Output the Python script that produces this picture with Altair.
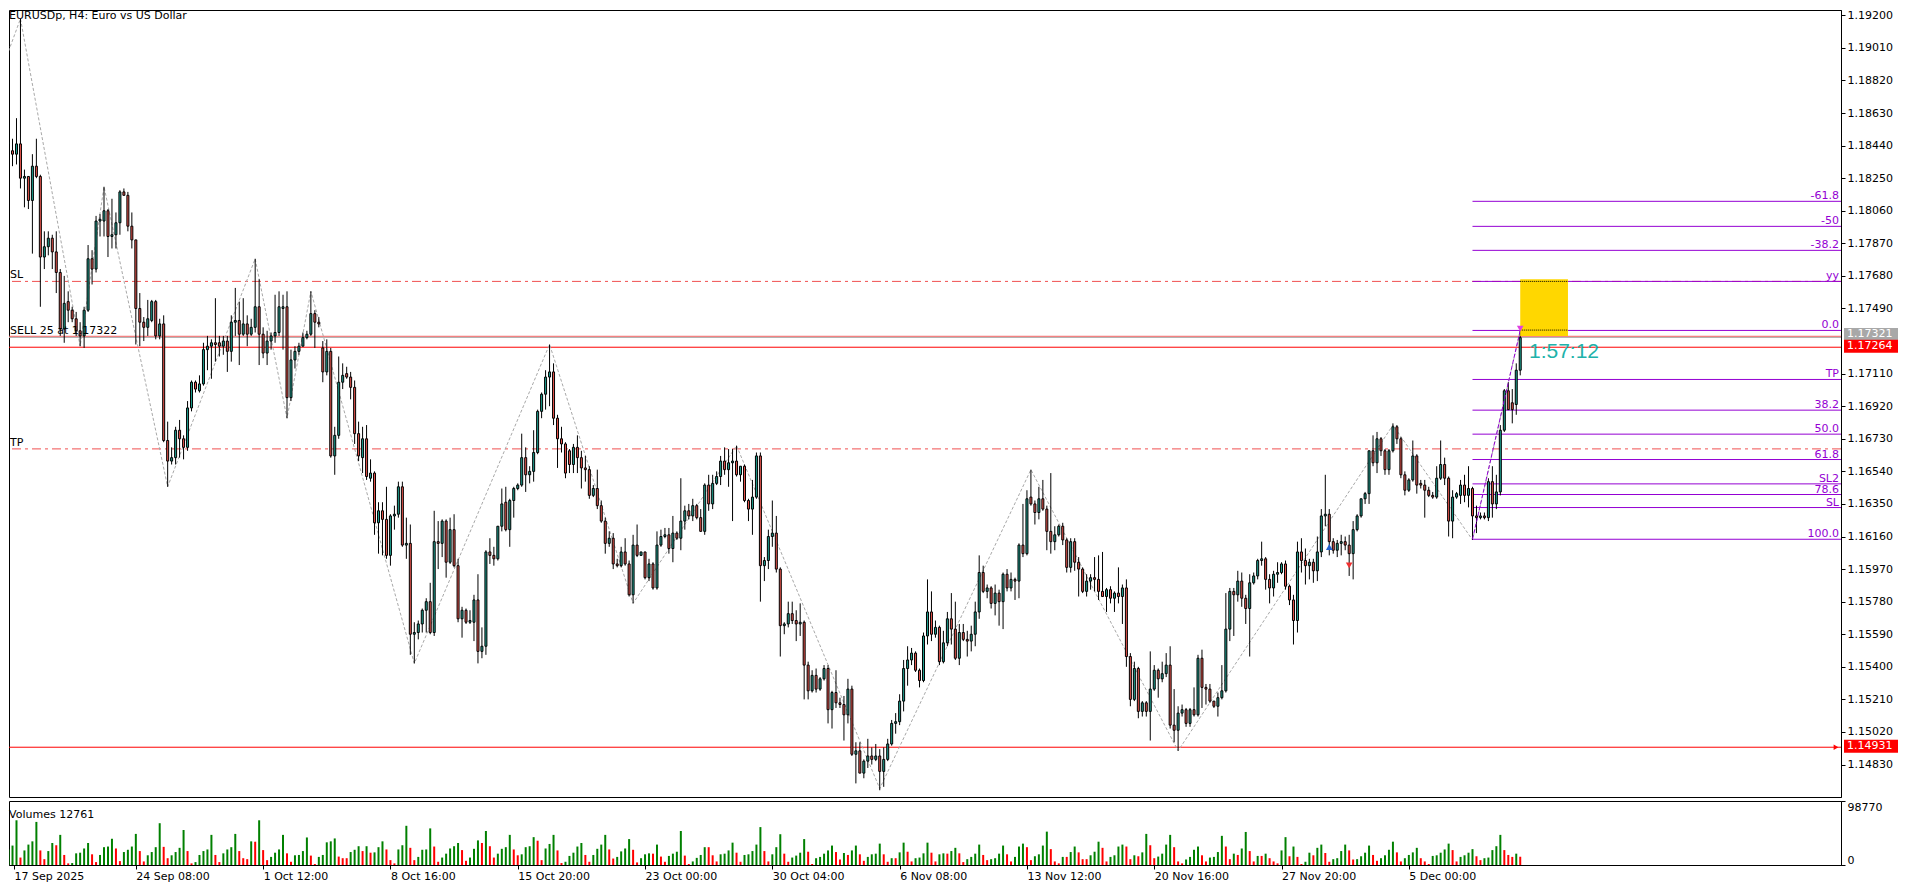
import altair as alt
import pandas as pd

W, H1, H2 = 1832, 787, 64
FONT = "DejaVu Sans"
BULL, BEAR = "#1E9E8E", "#E5534B"
PURPLE = "#9400D3"

# ---------------- candles (prices in pips, 1 = 0.0001) ----------------
opens = [
    11845, 11841, 11839, 11845, 11825, 11826, 11812, 11832, 11826, 11779,
    11785, 11790, 11782, 11770, 11737, 11753, 11748, 11743, 11736, 11733,
    11748, 11778, 11772, 11800, 11800, 11806, 11791, 11792, 11799, 11817,
    11815, 11797, 11789, 11749, 11741, 11738, 11742, 11753, 11733, 11740,
    11672, 11660, 11662, 11678, 11673, 11668, 11691, 11706, 11701, 11705,
    11725, 11727, 11729, 11729, 11727, 11730, 11724, 11741, 11742, 11734,
    11740, 11734, 11738, 11750, 11734, 11723, 11730, 11733, 11735, 11749,
    11750, 11697, 11719, 11724, 11727, 11732, 11734, 11746, 11741, 11726,
    11712, 11724, 11663, 11675, 11706, 11711, 11709, 11703, 11676, 11662,
    11673, 11650, 11653, 11624, 11631, 11626, 11605, 11628, 11629, 11645,
    11611, 11612, 11559, 11560, 11565, 11573, 11578, 11560, 11613, 11612,
    11625, 11601, 11620, 11599, 11568, 11573, 11566, 11566, 11579, 11549,
    11552, 11607, 11605, 11603, 11622, 11636, 11620, 11637, 11644, 11646,
    11662, 11652, 11654, 11665, 11689, 11699, 11709, 11712, 11685, 11673,
    11670, 11666, 11658, 11668, 11662, 11656, 11655, 11640, 11644, 11634,
    11625, 11612, 11615, 11600, 11599, 11607, 11600, 11582, 11611, 11605,
    11607, 11592, 11600, 11586, 11611, 11616, 11617, 11609, 11618, 11615,
    11625, 11631, 11628, 11634, 11627, 11619, 11646, 11635, 11647, 11651,
    11660, 11655, 11659, 11660, 11652, 11657, 11637, 11632, 11639, 11663,
    11599, 11602, 11616, 11618, 11597, 11564, 11565, 11571, 11567, 11565,
    11566, 11541, 11526, 11535, 11527, 11533, 11539, 11515, 11525, 11519,
    11518, 11512, 11527, 11489, 11491, 11478, 11485, 11488, 11486, 11488,
    11479, 11486, 11495, 11507, 11508, 11520, 11539, 11544, 11548, 11538,
    11532, 11558, 11572, 11559, 11563, 11543, 11554, 11568, 11562, 11545,
    11560, 11556, 11555, 11559, 11572, 11595, 11584, 11586, 11577, 11583,
    11578, 11594, 11586, 11591, 11590, 11611, 11606, 11639, 11635, 11630,
    11638, 11632, 11619, 11613, 11617, 11622, 11614, 11598, 11613, 11601,
    11597, 11584, 11590, 11592, 11591, 11584, 11581, 11585, 11580, 11583,
    11581, 11586, 11546, 11521, 11539, 11514, 11519, 11514, 11527, 11538,
    11533, 11536, 11541, 11506, 11503, 11513, 11515, 11507, 11515, 11512,
    11545, 11528, 11527, 11520, 11517, 11522, 11526, 11562, 11584, 11582,
    11590, 11580, 11574, 11589, 11593, 11602, 11603, 11591, 11586, 11594,
    11595, 11600, 11587, 11579, 11567, 11607, 11602, 11599, 11601, 11596,
    11607, 11628, 11629, 11613, 11608, 11612, 11613, 11611, 11606, 11620,
    11628, 11638, 11641, 11666, 11659, 11673, 11666, 11655, 11666, 11680,
    11673, 11652, 11643, 11649, 11663, 11647, 11646, 11643, 11640, 11639,
    11650, 11658, 11650, 11625, 11639, 11640, 11646, 11640, 11644, 11628,
    11627, 11628, 11627, 11648, 11635, 11642, 11678, 11701, 11694, 11693,
    11713,
]
closes = [
    11846, 11839, 11845, 11825, 11826, 11812, 11832, 11826, 11779, 11785,
    11790, 11782, 11770, 11737, 11752, 11748, 11743, 11736, 11733, 11748,
    11778, 11772, 11800, 11801, 11806, 11791, 11792, 11799, 11817, 11815,
    11797, 11789, 11749, 11741, 11738, 11743, 11753, 11733, 11740, 11672,
    11660, 11662, 11678, 11673, 11668, 11691, 11706, 11702, 11705, 11725,
    11727, 11729, 11728, 11727, 11730, 11724, 11741, 11742, 11734, 11740,
    11734, 11738, 11750, 11734, 11723, 11730, 11733, 11735, 11750, 11750,
    11697, 11719, 11724, 11727, 11732, 11734, 11746, 11741, 11740, 11712,
    11724, 11663, 11675, 11706, 11710, 11709, 11703, 11676, 11663, 11673,
    11651, 11653, 11624, 11631, 11626, 11605, 11628, 11629, 11645, 11611,
    11612, 11559, 11560, 11565, 11573, 11578, 11560, 11613, 11612, 11625,
    11601, 11620, 11599, 11568, 11573, 11566, 11567, 11579, 11549, 11552,
    11607, 11605, 11603, 11622, 11635, 11620, 11637, 11644, 11646, 11662,
    11652, 11654, 11665, 11689, 11699, 11709, 11712, 11685, 11673, 11670,
    11653, 11658, 11668, 11662, 11656, 11655, 11640, 11644, 11634, 11625,
    11612, 11615, 11600, 11599, 11607, 11600, 11582, 11611, 11605, 11607,
    11592, 11600, 11586, 11611, 11616, 11617, 11609, 11618, 11615, 11625,
    11631, 11628, 11634, 11627, 11619, 11646, 11635, 11647, 11651, 11660,
    11655, 11659, 11660, 11652, 11657, 11637, 11632, 11639, 11663, 11599,
    11602, 11616, 11618, 11597, 11564, 11565, 11571, 11567, 11565, 11566,
    11541, 11526, 11535, 11527, 11533, 11539, 11515, 11525, 11519, 11518,
    11512, 11527, 11489, 11491, 11478, 11485, 11488, 11486, 11488, 11479,
    11486, 11495, 11507, 11508, 11520, 11539, 11544, 11548, 11538, 11532,
    11558, 11572, 11559, 11563, 11543, 11554, 11568, 11562, 11545, 11560,
    11556, 11555, 11559, 11572, 11595, 11584, 11586, 11577, 11583, 11578,
    11594, 11586, 11591, 11590, 11611, 11606, 11638, 11635, 11630, 11638,
    11632, 11619, 11613, 11617, 11622, 11614, 11598, 11613, 11601, 11597,
    11584, 11590, 11592, 11591, 11584, 11581, 11585, 11580, 11583, 11581,
    11586, 11546, 11521, 11539, 11514, 11519, 11514, 11527, 11538, 11533,
    11536, 11541, 11506, 11503, 11513, 11515, 11507, 11515, 11512, 11545,
    11528, 11527, 11520, 11517, 11522, 11526, 11562, 11584, 11582, 11590,
    11580, 11574, 11589, 11593, 11602, 11603, 11591, 11586, 11594, 11595,
    11600, 11587, 11579, 11567, 11607, 11602, 11599, 11601, 11596, 11607,
    11628, 11629, 11613, 11608, 11612, 11613, 11611, 11606, 11620, 11628,
    11638, 11641, 11666, 11659, 11673, 11666, 11655, 11666, 11680, 11673,
    11652, 11643, 11649, 11663, 11646, 11646, 11643, 11640, 11639, 11650,
    11658, 11650, 11625, 11639, 11641, 11646, 11640, 11644, 11628, 11627,
    11628, 11627, 11648, 11635, 11642, 11678, 11701, 11690, 11690, 11713,
    11732,
]
highs = [
    11853, 11848, 11860, 11918, 11830, 11826, 11839, 11848, 11827, 11794,
    11794, 11792, 11794, 11772, 11768, 11759, 11750, 11747, 11741, 11750,
    11786, 11783, 11803, 11804, 11820, 11807, 11813, 11805, 11818, 11819,
    11817, 11805, 11789, 11758, 11744, 11754, 11754, 11754, 11743, 11745,
    11683, 11668, 11680, 11684, 11675, 11695, 11707, 11707, 11710, 11729,
    11733, 11731, 11755, 11733, 11733, 11733, 11745, 11761, 11753, 11755,
    11745, 11743, 11778, 11766, 11738, 11736, 11735, 11757, 11759, 11757,
    11759, 11725, 11727, 11729, 11735, 11736, 11759, 11748, 11744, 11730,
    11731, 11726, 11680, 11721, 11717, 11715, 11712, 11707, 11683, 11680,
    11681, 11661, 11654, 11636, 11636, 11645, 11629, 11634, 11648, 11648,
    11627, 11623, 11566, 11567, 11574, 11580, 11589, 11631, 11625, 11626,
    11626, 11627, 11629, 11603, 11575, 11574, 11573, 11582, 11594, 11563,
    11608, 11615, 11610, 11622, 11644, 11645, 11638, 11645, 11647, 11676,
    11668, 11657, 11678, 11690, 11700, 11713, 11728, 11717, 11687, 11680,
    11671, 11667, 11670, 11675, 11666, 11663, 11657, 11646, 11655, 11637,
    11627, 11619, 11618, 11603, 11610, 11615, 11602, 11617, 11623, 11607,
    11607, 11603, 11601, 11619, 11620, 11621, 11621, 11628, 11619, 11650,
    11634, 11635, 11638, 11635, 11632, 11647, 11652, 11652, 11654, 11663,
    11668, 11667, 11667, 11669, 11657, 11658, 11638, 11649, 11665, 11665,
    11604, 11620, 11637, 11628, 11598, 11566, 11578, 11578, 11573, 11577,
    11567, 11543, 11538, 11539, 11534, 11541, 11541, 11526, 11538, 11522,
    11523, 11533, 11529, 11496, 11496, 11486, 11498, 11493, 11495, 11492,
    11493, 11498, 11509, 11513, 11524, 11544, 11552, 11551, 11549, 11539,
    11560, 11591, 11584, 11567, 11564, 11561, 11572, 11583, 11578, 11565,
    11565, 11561, 11564, 11578, 11605, 11599, 11588, 11587, 11588, 11585,
    11595, 11597, 11595, 11592, 11612, 11635, 11643, 11655, 11637, 11645,
    11649, 11634, 11653, 11622, 11623, 11624, 11615, 11615, 11615, 11604,
    11598, 11594, 11594, 11604, 11605, 11607, 11586, 11587, 11584, 11598,
    11588, 11591, 11548, 11543, 11540, 11520, 11520, 11549, 11541, 11539,
    11543, 11548, 11552, 11527, 11517, 11518, 11516, 11516, 11528, 11547,
    11550, 11530, 11530, 11520, 11525, 11541, 11583, 11586, 11586, 11596,
    11595, 11582, 11594, 11595, 11603, 11613, 11604, 11594, 11596, 11601,
    11601, 11602, 11588, 11582, 11613, 11615, 11609, 11603, 11603, 11616,
    11632, 11652, 11632, 11615, 11614, 11617, 11616, 11617, 11625, 11629,
    11638, 11642, 11666, 11675, 11677, 11674, 11667, 11667, 11682, 11681,
    11674, 11654, 11650, 11672, 11664, 11649, 11649, 11645, 11642, 11657,
    11672, 11662, 11651, 11643, 11642, 11649, 11652, 11657, 11645, 11634,
    11630, 11630, 11650, 11657, 11652, 11681, 11702, 11706, 11702, 11717,
    11736,
]
lows = [
    11840, 11832, 11833, 11819, 11808, 11807, 11781, 11825, 11750, 11772,
    11780, 11772, 11758, 11733, 11729, 11741, 11741, 11733, 11727, 11726,
    11747, 11763, 11770, 11791, 11791, 11779, 11784, 11784, 11792, 11815,
    11794, 11784, 11728, 11727, 11730, 11733, 11741, 11731, 11731, 11671,
    11645, 11658, 11658, 11662, 11661, 11666, 11689, 11700, 11700, 11704,
    11713, 11708, 11718, 11721, 11722, 11712, 11718, 11733, 11716, 11733,
    11727, 11733, 11735, 11716, 11720, 11716, 11725, 11729, 11733, 11725,
    11685, 11695, 11714, 11722, 11727, 11731, 11733, 11726, 11738, 11706,
    11710, 11662, 11652, 11673, 11702, 11708, 11696, 11670, 11660, 11653,
    11649, 11648, 11617, 11606, 11605, 11603, 11599, 11620, 11627, 11610,
    11603, 11547, 11542, 11556, 11560, 11560, 11559, 11558, 11597, 11604,
    11592, 11600, 11598, 11566, 11557, 11565, 11565, 11555, 11542, 11545,
    11547, 11600, 11599, 11602, 11619, 11619, 11610, 11627, 11643, 11645,
    11642, 11647, 11648, 11664, 11685, 11690, 11692, 11681, 11656, 11665,
    11650, 11653, 11653, 11653, 11644, 11648, 11638, 11639, 11632, 11624,
    11606, 11610, 11597, 11598, 11598, 11599, 11581, 11577, 11604, 11605,
    11591, 11590, 11585, 11585, 11610, 11615, 11606, 11601, 11614, 11608,
    11620, 11626, 11625, 11626, 11619, 11617, 11631, 11632, 11646, 11646,
    11652, 11645, 11625, 11651, 11648, 11636, 11625, 11617, 11638, 11578,
    11590, 11597, 11610, 11595, 11546, 11559, 11563, 11565, 11555, 11558,
    11521, 11521, 11525, 11525, 11526, 11532, 11507, 11504, 11516, 11516,
    11497, 11507, 11488, 11472, 11478, 11475, 11481, 11483, 11485, 11468,
    11470, 11485, 11494, 11501, 11506, 11514, 11529, 11541, 11537, 11528,
    11531, 11553, 11555, 11557, 11541, 11542, 11552, 11553, 11544, 11541,
    11555, 11546, 11549, 11552, 11568, 11583, 11580, 11574, 11570, 11564,
    11562, 11584, 11584, 11579, 11580, 11604, 11605, 11634, 11623, 11626,
    11631, 11608, 11606, 11608, 11616, 11611, 11595, 11595, 11596, 11581,
    11583, 11581, 11585, 11584, 11579, 11581, 11572, 11577, 11572, 11577,
    11565, 11540, 11517, 11520, 11510, 11511, 11511, 11497, 11526, 11522,
    11531, 11534, 11504, 11496, 11491, 11511, 11505, 11505, 11511, 11511,
    11516, 11518, 11519, 11516, 11511, 11521, 11525, 11555, 11558, 11578,
    11575, 11565, 11546, 11588, 11591, 11599, 11585, 11577, 11581, 11589,
    11594, 11585, 11576, 11553, 11560, 11595, 11588, 11591, 11589, 11590,
    11604, 11622, 11605, 11606, 11604, 11605, 11608, 11593, 11591, 11619,
    11627, 11635, 11635, 11657, 11653, 11663, 11652, 11652, 11665, 11670,
    11650, 11640, 11642, 11648, 11641, 11644, 11627, 11639, 11638, 11638,
    11649, 11646, 11616, 11615, 11638, 11635, 11636, 11633, 11614, 11618,
    11626, 11626, 11625, 11627, 11632, 11640, 11677, 11690, 11682, 11687,
    11710,
]

# ---------------- volumes (thousands) ----------------
vol_k = [
    24, 30, 69, 11.5, 22.5, 31.5, 36.5, 66.5, 22.5, 9,
    21.5, 34, 30.5, 46.5, 15.5, 2.5, 3, 18, 19, 25.5,
    34, 16.5, 4.5, 15.5, 27.5, 28.5, 40.5, 25.5, 6, 20,
    23.5, 28.5, 48, 21.5, 5.5, 15, 20, 27.5, 64.5, 28,
    10.5, 15, 20, 26.5, 54, 21.5, 2.5, 4.5, 15.5, 21.5,
    24, 46.5, 15.5, 4.5, 18, 24, 27.5, 48, 21.5, 10.5,
    9, 36.5, 36, 69, 23, 7.5, 12.5, 19, 24, 46.5,
    18, 5, 15, 15.5, 21.5, 42.5, 14.5, 1.5, 12.5, 15.5,
    35, 36.5, 41, 13, 10.5, 10.5, 20, 23.5, 29, 21.5,
    29, 19, 19.5, 27.5, 36.5, 24, 7.5, 2.5, 24, 30.5,
    60.5, 26.5, 7.5, 12.5, 23.5, 24, 56.5, 28.5, 5, 11.5,
    17.5, 25.5, 29, 34, 23, 6.5, 11.5, 25, 38, 34,
    52.5, 29, 11.5, 17.5, 25, 27.5, 46.5, 24, 15, 16.5,
    27.5, 29, 43, 37.5, 7.5, 25.5, 32.5, 46.5, 22.5, 3,
    5, 14, 19, 28.5, 34, 15.5, 5, 15.5, 25, 31.5,
    46.5, 24, 10, 12.5, 21, 25.5, 40, 23.5, 4, 10.5,
    16.5, 18, 17.5, 31.5, 13, 5, 14, 17.5, 20.5, 52.5,
    14.5, 1.5, 5.5, 11, 15.5, 27.5, 27.5, 15, 5.5, 16.5,
    17.5, 22.5, 34.5, 19, 5, 15.5, 16.5, 21.5, 31.5, 58.5,
    21.5, 5.5, 16.5, 27.5, 47.5, 17.5, 5, 11.5, 14.5, 19,
    40, 20.5, 1.5, 10.5, 12.5, 17.5, 22.5, 30, 20, 8.5,
    18.5, 15.5, 22.5, 30, 16.5, 6.5, 12.5, 16.5, 17.5, 33,
    16.5, 5, 10.5, 10.5, 19.5, 34.5, 20.5, 5.5, 10.5, 11.5,
    18, 34.5, 19, 5.5, 16.5, 18, 17.5, 21.5, 26.5, 18,
    4.5, 9, 12.5, 17.5, 31.5, 15.5, 7.5, 9, 10.5, 17.5,
    30, 16.5, 5.5, 12.5, 28.5, 33, 27.5, 7.5, 13.5, 16.5,
    30, 51.5, 24.5, 5.5, 2.5, 12.5, 12.5, 20, 28.5, 19.5,
    9, 9, 15, 20.5, 36, 26.5, 5.5, 12.5, 15, 28.5,
    31.5, 28.5, 9, 15, 13.5, 19.5, 48, 30.5, 10.5, 13,
    17.5, 31.5, 46.5, 27.5, 5.5, 2.5, 8.5, 12.5, 23.5, 28.5,
    15, 5.5, 11.5, 12.5, 20, 45, 28.5, 9, 17.5, 15.5,
    25.5, 51, 21.5, 5.5, 14, 14, 17.5, 10.5, 5.5, 2.5,
    22.5, 43, 13.5, 28.5, 12.5, 1.5, 5, 19, 15, 26.5,
    31.5, 18.5, 5, 9, 10.5, 21.5, 31.5, 22.5, 8.5, 9,
    13.5, 19, 30, 15.5, 6.5, 10.5, 15, 23.5, 36, 19.5,
    5.5, 10.5, 15.5, 19.5, 26.5, 10.5, 5.5, 1.5, 14, 15,
    19, 24, 33, 23, 5.5, 12.5, 15, 19, 24.5, 13.5,
    7.5, 10.5, 11.5, 23, 29, 46.5, 23, 15.5, 12.5, 17.5,
    12.761,
]

# ---------------- axes / labels ----------------
tick_bars = [0, 32, 64, 96, 128, 160, 192, 224, 256, 288, 320, 352]
tick_labels = ["17 Sep 2025", "24 Sep 08:00", "1 Oct 12:00", "8 Oct 16:00",
               "15 Oct 20:00", "23 Oct 00:00", "30 Oct 04:00", "6 Nov 08:00",
               "13 Nov 12:00", "20 Nov 16:00", "27 Nov 20:00", "5 Dec 00:00"]
price_ticks = [1.19200, 1.19010, 1.18820, 1.18630, 1.18440, 1.18250, 1.18060,
               1.17870, 1.17680, 1.17490, 1.17110, 1.16920, 1.16730, 1.16540,
               1.16350, 1.16160, 1.15970, 1.15780, 1.15590, 1.15400, 1.15210,
               1.15020, 1.14830]
vol_ticks = [0, 98770]

# ---------------- drawings ----------------
fib_labels = ["-61.8", "-50", "-38.2", "yy", "0.0", "TP", "38.2", "50.0",
              "61.8", "SL2", "78.6", "SL", "100.0"]
fib_prices = [1.18115, 1.17969, 1.17829, 1.17648, 1.17362, 1.17076, 1.16897,
              1.16757, 1.16609, 1.16467, 1.16405, 1.16329, 1.16144]
fib_start_bar = 368
fib_trend_bars = [368, 380]
fib_trend_prices = [1.16144, 1.17362]

zz_bars = [0, 3, 18, 24, 40, 62, 70, 76, 102, 136, 157, 183, 219, 257, 294, 348, 368, 380]
zz_prices = [1.1899, 1.1918, 1.1727, 1.1820, 1.1645, 1.1778, 1.1685, 1.1759, 1.1542,
             1.1728, 1.1577, 1.1669, 1.1469, 1.1655, 1.1491, 1.1681, 1.1614, 1.1736]

dashdot_prices = [1.17648, 1.16671]
dashdot_labels = ["SL", "TP"]
order_price = 1.17322
order_label = "SELL 25 at 1.17322"
bid_price = 1.17321
ask_price = 1.17264
low_line_price = 1.14931

box_bars = [380, 392]
box_prices = [1.17329, 1.17661]
box_dot_prices = [1.17648, 1.17364]
timer_text = "1:57:12"
timer_bar = 382.2
timer_price = 1.17200

arrow_bars = [332, 337, 380]
arrow_prices = [1.16099, 1.15992, 1.17373]
arrow_shapes = ["triangle-up", "triangle-down", "triangle-down"]
arrow_colors = ["#2060D0", "#F03030", "#E040E0"]

# ---------------- frames ----------------
n = len(closes)
cd = pd.DataFrame({
    "bar": list(range(n)),
    "o": [v / 1e4 for v in opens[:n]],
    "c": [v / 1e4 for v in closes[:n]],
    "h": [max(highs[i], opens[i], closes[i]) / 1e4 for i in range(n)],
    "l": [min(lows[i], opens[i], closes[i]) / 1e4 for i in range(n)],
})
vol = [round(v * 1000) for v in vol_k]
vd = pd.DataFrame({"bar": list(range(len(vol))), "v": vol})
vd["col"] = ["g"] + ["g" if vol[i] > vol[i - 1] else "r" for i in range(1, len(vol))]

XS = alt.Scale(domain=[1.375, 459.375], nice=False, zero=False)
YS = alt.Scale(domain=[1.146407, 1.192309], nice=False, zero=False)
YAX = alt.Axis(orient="right", values=price_ticks, format=".5f", title=None, grid=False,
               tickSize=4, labelPadding=2, labelFont=FONT, labelFontSize=11,
               labelColor="black", tickColor="black", domainColor="black",
               labelOverlap=False, labelBound=False)


def X(f):
    return alt.X(f, type="quantitative", scale=XS, axis=None)


def Y(f):
    return alt.Y(f, type="quantitative", scale=YS, axis=YAX)


layers = []

# dash-dot SL / TP
ddf = pd.DataFrame({"p": dashdot_prices, "t": dashdot_labels})
layers.append(alt.Chart(ddf).mark_rule(color="#F05050", strokeWidth=1, strokeDash=[9, 4, 3, 4])
              .encode(y=Y("p")))
# order / bid / ask / low lines
layers.append(alt.Chart(pd.DataFrame({"p": [bid_price]})).mark_rule(color="#B0B0B0", strokeWidth=1)
              .encode(y=Y("p")))
layers.append(alt.Chart(pd.DataFrame({"p": [order_price]})).mark_rule(color="#F06060", strokeWidth=1, yOffset=-1)
              .encode(y=Y("p")))
layers.append(alt.Chart(pd.DataFrame({"p": [ask_price, low_line_price]})).mark_rule(color="#FF0000", strokeWidth=1)
              .encode(y=Y("p")))

# fibonacci levels
fdf = pd.DataFrame({"p": fib_prices, "t": fib_labels, "b": [fib_start_bar] * len(fib_prices)})
layers.append(alt.Chart(fdf).mark_rule(color=PURPLE, strokeWidth=1)
              .encode(x=X("b"), x2=alt.value(W), y=Y("p")))

# zigzag
zdf = pd.DataFrame({"b": zz_bars, "p": zz_prices})
layers.append(alt.Chart(zdf).mark_line(color="#A8A8A8", strokeWidth=1, strokeDash=[3, 2], clip=True)
              .encode(x=X("b"), y=Y("p"), order="b:Q"))

# candles
layers.append(alt.Chart(cd).mark_rule(color="black", strokeWidth=1, clip=True)
              .encode(x=X("bar"), y=Y("l"), y2="h"))
layers.append(alt.Chart(cd).mark_bar(size=2, stroke="black", strokeWidth=1, clip=True)
              .encode(x=X("bar"), y=Y("o"), y2="c",
                      color=alt.condition("datum.c >= datum.o", alt.value(BULL), alt.value(BEAR))))

# fib trend line
tdf = pd.DataFrame({"b": fib_trend_bars, "p": fib_trend_prices})
layers.append(alt.Chart(tdf).mark_line(color=PURPLE, strokeWidth=1, strokeDash=[4, 2])
              .encode(x=X("b"), y=Y("p"), order="b:Q"))

# yellow box + dotted lines
bdf = pd.DataFrame({"b1": [box_bars[0]], "b2": [box_bars[1]], "p1": [box_prices[0]], "p2": [box_prices[1]]})
layers.append(alt.Chart(bdf).mark_rect(color="#FFD700")
              .encode(x=X("b1"), x2="b2", y=Y("p1"), y2="p2"))
bdd = pd.DataFrame({"p": box_dot_prices, "b1": [box_bars[0]] * 2, "b2": [box_bars[1]] * 2})
layers.append(alt.Chart(bdd).mark_rule(color="black", strokeWidth=1, strokeDash=[1, 1])
              .encode(x=X("b1"), x2="b2", y=Y("p")))

# arrows
for b, p, s, c in zip(arrow_bars, arrow_prices, arrow_shapes, arrow_colors):
    layers.append(alt.Chart(pd.DataFrame({"b": [b], "p": [p]}))
                  .mark_point(shape=s, filled=True, size=45, color=c, opacity=1)
                  .encode(x=X("b"), y=Y("p")))

# texts
layers.append(alt.Chart(pd.DataFrame({"t": ["EURUSDp, H4:  Euro vs US Dollar"]}))
              .mark_text(align="left", baseline="alphabetic", font=FONT, fontSize=11, color="black")
              .encode(x=alt.value(0), y=alt.value(9), text="t:N"))
ldf = pd.DataFrame({"p": dashdot_prices + [order_price], "t": dashdot_labels + [order_label]})
layers.append(alt.Chart(ldf).mark_text(align="left", baseline="alphabetic", font=FONT, fontSize=11,
                                       color="black", dy=-3)
              .encode(x=alt.value(1), y=Y("p"), text="t:N"))
layers.append(alt.Chart(fdf).mark_text(align="right", baseline="alphabetic", font=FONT, fontSize=11,
                                       color=PURPLE, dy=-2)
              .encode(x=alt.value(W - 2), y=Y("p"), text="t:N"))
layers.append(alt.Chart(pd.DataFrame({"b": [timer_bar], "p": [timer_price], "t": [timer_text]}))
              .mark_text(align="left", baseline="alphabetic", font="Liberation Sans", fontSize=21,
                         color="#20B2AA")
              .encode(x=X("b"), y=Y("p"), text="t:N"))

# right side price boxes
BOX = "M-1,-0.2407H1V0.2407H-1Z"
pbox = pd.DataFrame({"p": [bid_price, ask_price, low_line_price],
                     "t": ["1.17321", "1.17264", "1.14931"],
                     "c": ["#A8A8A8", "#FF0000", "#FF0000"],
                     "k": [0, 1, 2]})
layers.append(alt.Chart(pbox[pbox.k == 0]).mark_point(shape=BOX, filled=True, size=2916, opacity=1,
                                                      strokeWidth=0, yOffset=-3)
              .encode(x=alt.value(W + 30), y=Y("p"), color=alt.Color("c:N", scale=None)))
layers.append(alt.Chart(pbox[pbox.k == 0]).mark_text(align="left", baseline="middle", font=FONT,
                                                     fontSize=11, color="white", dy=-3)
              .encode(x=alt.value(W + 6), y=Y("p"), text="t:N"))
layers.append(alt.Chart(pbox[pbox.k > 0]).mark_point(shape=BOX, filled=True, size=2916, opacity=1,
                                                     strokeWidth=0, yOffset=-1)
              .encode(x=alt.value(W + 30), y=Y("p"), color=alt.Color("c:N", scale=None)))
layers.append(alt.Chart(pbox[pbox.k > 0]).mark_text(align="left", baseline="middle", font=FONT,
                                                    fontSize=11, color="white", dy=-1)
              .encode(x=alt.value(W + 6), y=Y("p"), text="t:N"))
layers.append(alt.Chart(pd.DataFrame({"p": [low_line_price]}))
              .mark_point(shape="triangle-right", filled=True, size=30, color="#FF0000", opacity=1)
              .encode(x=alt.value(W - 5), y=Y("p")))

price = alt.layer(*layers).properties(width=W, height=H1)

# ---------------- volume panel ----------------
label_expr = "[" + ",".join("'%s'" % s for s in tick_labels) + "][round(datum.value/32)]"
VXAX = alt.Axis(values=[max(b, 1.375) for b in tick_bars], labelExpr=label_expr, title=None,
                grid=False, tickSize=4, labelPadding=1, labelAlign="left", labelBaseline="top",
                labelFlush=False, labelOverlap=False, labelBound=False, labelFont=FONT,
                labelFontSize=11, labelColor="black", tickColor="black", domainColor="black")
VYAX = alt.Axis(orient="right", values=vol_ticks, format="d", title=None, grid=False, tickSize=4,
                labelPadding=2, labelFlush=True, labelFont=FONT, labelFontSize=11,
                labelColor="black", tickColor="black", domainColor="black")
vx = alt.X("bar", type="quantitative", scale=XS, axis=VXAX)
vbars = alt.Chart(vd).mark_bar(size=2, clip=True).encode(
    x=vx,
    y=alt.Y("v", type="quantitative", scale=alt.Scale(domain=[0, 98770], nice=False), axis=VYAX),
    color=alt.Color("col:N", scale=alt.Scale(domain=["g", "r"], range=["#008000", "#FF0000"]), legend=None),
)
vtext = alt.Chart(pd.DataFrame({"t": ["Volumes 12761"]})).mark_text(
    align="left", baseline="alphabetic", font=FONT, fontSize=11, color="black"
).encode(x=alt.value(0), y=alt.value(17), text="t:N")
volume = alt.layer(vbars, vtext).properties(width=W, height=H2)

chart = (
    alt.vconcat(price, volume, spacing=2)
    .properties(padding=0, background="white")
    .configure_view(stroke="black", strokeWidth=1)
)
chart.save("out.html", embed_options={"renderer": "svg", "actions": False})
